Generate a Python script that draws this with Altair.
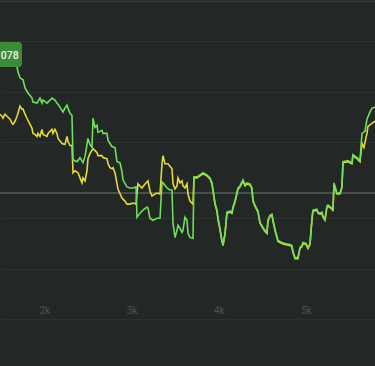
import altair as alt
import pandas as pd

# Green series (x = sample count, y = level; gridlines every 25)
green_x = [1492, 1526, 1584, 1652, 1687, 1698, 1721, 1756, 1779, 1813, 1859, 1870, 1916, 1950, 1973, 1985,
           2031, 2065, 2088, 2122, 2145, 2180, 2214, 2237, 2260, 2271, 2294, 2317, 2329, 2374, 2409, 2443,
           2466, 2489, 2500, 2523, 2546, 2558, 2581, 2604, 2615, 2661, 2672, 2718, 2730, 2753, 2775, 2810,
           2833, 2867, 2890, 2902, 2947, 2982, 3016, 3051, 3062, 3096, 3131, 3177, 3188, 3211, 3245, 3291,
           3326, 3349, 3360, 3406, 3440, 3463, 3475, 3498, 3520, 3532, 3555, 3578, 3589, 3612, 3635, 3647,
           3669, 3704, 3715, 3750, 3784, 3818, 3864, 3899, 3922, 3933, 3956, 3979, 3990, 4013, 4036, 4048,
           4071, 4093, 4128, 4151, 4162, 4185, 4220, 4242, 4277, 4300, 4323, 4357, 4380, 4391, 4414, 4449,
           4472, 4506, 4529, 4552, 4563, 4586, 4609, 4621, 4644, 4666, 4678, 4724, 4758, 4815, 4838, 4850,
           4873, 4907, 4930, 4953, 4964, 4999, 5022, 5045, 5068, 5079, 5125, 5136, 5159, 5182, 5194, 5217,
           5239, 5251, 5297, 5308, 5320, 5354, 5388, 5411, 5423, 5480, 5526, 5537, 5583, 5618, 5641, 5675,
           5698, 5732, 5755, 5790]
green_y = [149, 148, 144, 134, 125, 120, 114, 112, 104, 99, 94, 90, 89, 94, 89, 92,
           89, 92, 94, 92, 89, 85, 80, 84, 87, 84, 79, 77, 33, 31, 35, 30,
           36, 48, 54, 48, 45, 74, 65, 67, 60, 62, 59, 59, 52, 49, 46, 45,
           31, 30, 21, 13, 6, 5, 5, 6, -24, -20, -17, -14, -15, -25, -27, -25,
           -25, 11, 10, 5, 3, 3, -30, -44, -37, -32, -35, -39, -37, -24, -27, -40,
           -44, -45, 16, 16, 18, 20, 18, 15, 10, 3, -10, -17, -25, -35, -47, -51,
           -40, -19, -18, -19, -14, -8, 5, 7, 13, 8, 10, 9, 5, -7, -12, -18,
           -29, -34, -37, -39, -27, -22, -21, -27, -36, -43, -47, -49, -50, -51, -52, -58,
           -64, -64, -54, -52, -49, -50, -54, -50, -25, -17, -16, -19, -20, -19, -23, -26,
           -13, -12, -15, -17, 10, 0, 0, 6, 31, 32, 30, 38, 35, 32, 59, 61,
           73, 80, 84, 85]

# Yellow series where it differs from green (left part and right end)
yellow_left_x = [1492, 1515, 1526, 1549, 1572, 1607, 1630, 1641, 1664, 1687, 1698, 1721, 1744, 1756, 1779,
                 1801, 1836, 1859, 1870, 1893, 1916, 1927, 1950, 1973, 1985, 2031, 2042, 2088, 2099, 2122,
                 2145, 2157, 2203, 2237, 2260, 2271, 2294, 2317, 2329, 2352, 2386, 2409, 2432, 2443, 2466,
                 2489, 2500, 2523, 2558, 2581, 2604, 2615, 2661, 2672, 2718, 2730, 2753, 2775, 2787, 2810,
                 2833, 2844, 2890, 2924, 2947, 2982, 3016, 3051, 3073, 3119, 3154, 3188, 3211, 3234, 3268,
                 3291, 3326, 3349, 3360, 3383, 3417, 3463, 3475, 3498, 3520, 3532, 3555, 3578, 3589, 3612,
                 3635, 3647, 3669, 3704]
yellow_left_y = [79, 77, 75, 79, 77, 74, 70, 69, 72, 77, 80, 87, 84, 84, 79,
                 75, 69, 65, 60, 59, 57, 60, 57, 64, 59, 57, 60, 64, 60, 64,
                 60, 55, 50, 49, 57, 52, 48, 48, 21, 23, 21, 16, 11, 16, 13,
                 23, 35, 40, 45, 43, 41, 38, 38, 36, 35, 30, 26, 25, 26, 21,
                 10, 5, -4, -7, -10, -10, -9, -10, 10, 6, 10, 13, 3, -2, 0,
                 1, 0, 30, 38, 30, 30, 25, 10, 5, 8, 16, 11, 13, 8, 6,
                 10, 0, -7, -10]
yellow_right_x = [5641, 5663, 5698, 5709, 5755, 5790]
yellow_right_y = [50, 46, 60, 67, 70, 72]

grid_values = [175, 150, 125, 100, 75, 50, 25, -25, -50, -75, -100, -125]
tick_values = [2000, 3000, 4000, 5000]

label_text = ["078"]

BG = "#232725"
GREEN = "#70df5a"
YELLOW = "#e4d93c"

gdf = pd.DataFrame({"x": green_x, "y": green_y})
mid = gdf[(gdf.x >= 3715) & (gdf.x <= 5618)]
ydf = pd.concat([
    pd.DataFrame({"x": yellow_left_x, "y": yellow_left_y}),
    mid,
    pd.DataFrame({"x": yellow_right_x, "y": yellow_right_y}),
], ignore_index=True)

xscale = alt.Scale(domain=[1492, 5790], nice=False, zero=False)
yscale = alt.Scale(domain=[-171.27, 191.07], nice=False, zero=False)

xax = alt.Axis(values=tick_values, labelExpr="datum.value/1000 + 'k'", grid=False,
               domain=False, ticks=False, labelColor="#4f5451", labelFontSize=10,
               labelFont="Roboto", labelPadding=0, offset=-61, title=None)
yax = alt.Axis(values=grid_values, grid=True, gridColor="#2e322f", gridWidth=1,
               labels=False, domain=False, ticks=False, title=None)

base_rule = alt.Chart(pd.DataFrame({"y": [0]})).mark_rule(color="#4a4e4b", strokeWidth=2).encode(
    y=alt.Y("y:Q", scale=yscale, axis=yax)
)
top_rule = alt.Chart(pd.DataFrame({"y": [0]})).mark_rule(color="#3a3e3b", strokeWidth=1.5).encode(
    y=alt.value(1.5), x=alt.value(0), x2=alt.value(375)
)

yellow = alt.Chart(ydf).mark_line(color=YELLOW, strokeWidth=1.6, clip=True, yOffset=1).encode(
    x=alt.X("x:Q", scale=xscale, axis=xax),
    y=alt.Y("y:Q", scale=yscale, axis=yax),
    order="x:Q",
)
green = alt.Chart(gdf).mark_line(color=GREEN, strokeWidth=1.6, clip=True).encode(
    x=alt.X("x:Q", scale=xscale, axis=xax),
    y=alt.Y("y:Q", scale=yscale, axis=yax),
    order="x:Q",
)

label_df = pd.DataFrame({"x": [1370], "x2": [1744], "y": [149.5], "y2": [124.7],
                         "tx": [1500], "ty": [135.5], "t": label_text})
label_box = alt.Chart(label_df).mark_rect(color="#3e8a3b", cornerRadius=3, clip=True).encode(
    x=alt.X("x:Q", scale=xscale), x2="x2:Q",
    y=alt.Y("y:Q", scale=yscale), y2="y2:Q",
)
label_txt = alt.Chart(label_df).mark_text(color="#eef5ea", fontSize=10.5, font="Roboto", fontWeight=500,
                                          align="left", baseline="middle").encode(
    x=alt.X("tx:Q", scale=xscale), y=alt.Y("ty:Q", scale=yscale), text="t:N"
)

chart = alt.layer(base_rule, top_rule, yellow, green, label_box, label_txt).properties(
    width=375, height=366, background=BG, padding=0,
    autosize=alt.AutoSizeParams(type="none"),
).configure_view(stroke=None)

chart.save("out.html", embed_options={"renderer": "svg", "actions": False})
